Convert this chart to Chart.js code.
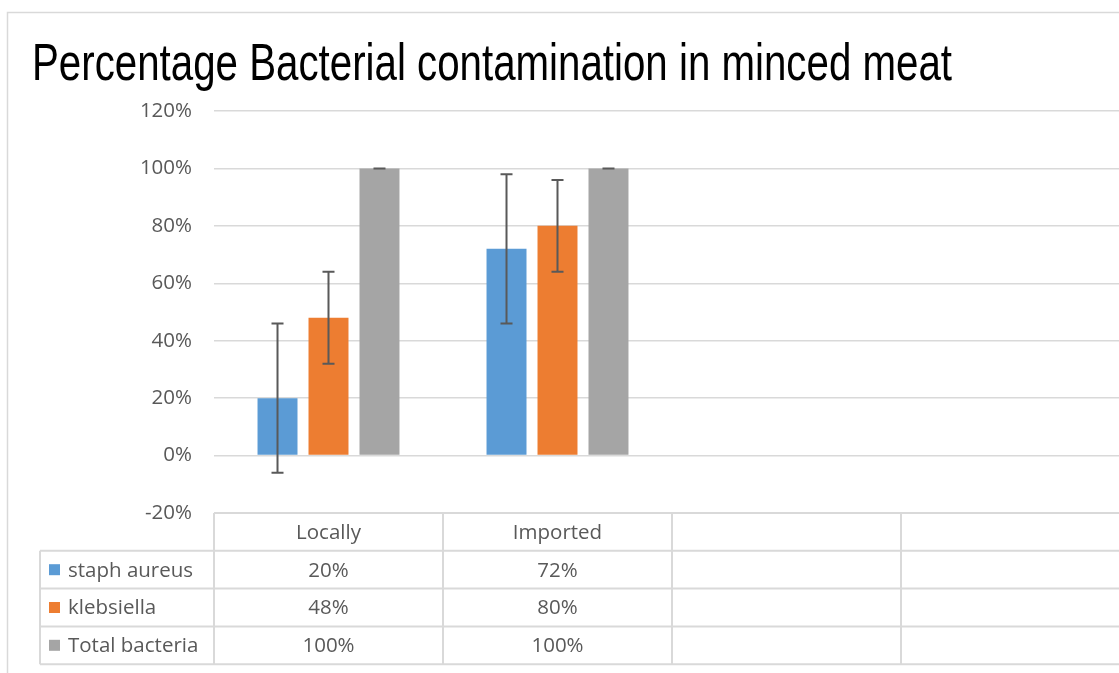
<!DOCTYPE html>
<html lang="en">
<head>
<meta charset="UTF-8">
<title>Percentage Bacterial contamination in minced meat</title>
<script src="https://cdn.jsdelivr.net/npm/chart.js@4.4.0/dist/chart.umd.min.js"></script>
<style>
  html, body { margin: 0; padding: 0; background: #fff; overflow: hidden; }
  #wrap { position: absolute; left: 0; top: 0; width: 1140px; height: 673px; }
</style>
</head>
<body>
<div id="wrap"><canvas id="chart" width="1140" height="673"></canvas></div>
<script>
// Data
const chartTitle = 'Percentage Bacterial contamination in minced meat';
const categories = ['Locally', 'Imported', '', ''];
const seriesNames = ['staph aureus', 'klebsiella', 'Total bacteria'];
const staphAureus = [20, 72, null, null];
const klebsiella = [48, 80, null, null];
const totalBacteria = [100, 100, null, null];
const staphErr = [26, 26, null, null];
const klebsErr = [16, 16, null, null];
const totalErr = [0, 0, null, null];
const yMin = -20, yMax = 120, yStep = 20;

const colors = ['#5B9BD5', '#ED7D31', '#A5A5A5'];
const textColor = '#595959';
const lineColor = '#D9D9D9';
const font = '"Open Sans", "Liberation Sans", sans-serif';

const seriesValues = [staphAureus, klebsiella, totalBacteria];
const seriesErrors = [staphErr, klebsErr, totalErr];

// frame + title
const framePlugin = {
  id: 'frame',
  beforeDraw(chart) {
    const c = chart.ctx;
    c.save();
    c.strokeStyle = lineColor;
    c.lineWidth = 1.5;
    c.strokeRect(7.5, 12.5, 1300, 800);
    c.fillStyle = '#000';
    c.font = '52px "Liberation Sans", Arial, sans-serif';
    c.textBaseline = 'alphabetic';
    c.textAlign = 'left';
    // narrow face is not installed, so squeeze the regular one to the title width
    const w = c.measureText(chartTitle).width;
    c.translate(32, 80);
    c.scale(920 / w, 1);
    c.fillText(chartTitle, 0, 0);
    c.restore();
  }
};

// error bars
const errorBarPlugin = {
  id: 'errorBars',
  afterDatasetsDraw(chart) {
    const c = chart.ctx;
    const y = chart.scales.y;
    c.save();
    c.strokeStyle = '#595959';
    c.lineWidth = 2;
    chart.data.datasets.forEach((ds, i) => {
      const meta = chart.getDatasetMeta(i);
      meta.data.forEach((bar, j) => {
        const v = ds.data[j];
        const e = seriesErrors[i][j];
        if (v == null || e == null) return;
        const top = y.getPixelForValue(v + e);
        const bot = y.getPixelForValue(v - e);
        const half = 6;
        c.beginPath();
        c.moveTo(bar.x, top); c.lineTo(bar.x, bot);
        c.moveTo(bar.x - half, top); c.lineTo(bar.x + half, top);
        c.moveTo(bar.x - half, bot); c.lineTo(bar.x + half, bot);
        c.stroke();
      });
    });
    c.restore();
  }
};

// data table under the plot
const tablePlugin = {
  id: 'dataTable',
  afterDraw(chart) {
    const c = chart.ctx;
    const x = chart.scales.x;
    const area = chart.chartArea;
    const colW = (area.right - area.left) / categories.length;
    const rowH = 37.8;
    const top = area.bottom;
    const legendLeft = 40;
    const nRows = seriesNames.length + 1;
    c.save();
    c.strokeStyle = lineColor;
    c.lineWidth = 2;
    c.beginPath();
    // horizontal lines
    c.moveTo(area.left, top); c.lineTo(area.right, top);
    for (let r = 1; r <= nRows; r++) {
      const yy = top + r * rowH;
      c.moveTo(legendLeft, yy); c.lineTo(area.right, yy);
    }
    // vertical lines
    c.moveTo(legendLeft, top + rowH); c.lineTo(legendLeft, top + nRows * rowH);
    for (let k = 0; k <= categories.length; k++) {
      const xx = area.left + k * colW;
      c.moveTo(xx, top); c.lineTo(xx, top + nRows * rowH);
    }
    c.stroke();

    c.font = '20.5px ' + font;
    c.fillStyle = textColor;
    c.textBaseline = 'middle';
    c.textAlign = 'center';
    categories.forEach((cat, k) => {
      const cx = x.getPixelForValue(k);
      c.fillText(cat, cx, top + rowH / 2 + 1);
      seriesValues.forEach((vals, s) => {
        if (vals[k] == null) return;
        c.fillText(vals[k] + '%', cx, top + (s + 1.5) * rowH + 1);
      });
    });
    c.textAlign = 'left';
    seriesNames.forEach((name, s) => {
      const cy = top + (s + 1.5) * rowH;
      c.fillStyle = colors[s];
      c.fillRect(49, cy - 5.5, 11, 11);
      c.fillStyle = textColor;
      c.fillText(name, 68, cy + 1);
    });
    c.restore();
  }
};

new Chart(document.getElementById('chart'), {
  type: 'bar',
  data: {
    labels: categories,
    datasets: seriesNames.map((name, i) => ({
      label: name,
      data: seriesValues[i],
      backgroundColor: colors[i],
      borderWidth: 0,
      categoryPercentage: 0.668,
      barPercentage: 0.784
    }))
  },
  options: {
    responsive: false,
    animation: false,
    layout: { padding: { top: 111, left: 0, right: 10, bottom: 0 } },
    plugins: {
      legend: { display: false },
      title: { display: false },
      tooltip: { enabled: false }
    },
    scales: {
      x: {
        grid: { display: false },
        border: { display: false },
        ticks: { display: false },
        afterFit(scale) { scale.height = 160; }
      },
      y: {
        min: yMin,
        max: yMax,
        ticks: {
          stepSize: yStep,
          padding: 22,
          color: textColor,
          font: { family: font, size: 20.5 },
          callback: v => v + '%'
        },
        grid: { color: lineColor, lineWidth: 1.5, drawTicks: false },
        border: { display: false },
        afterFit(scale) { scale.width = 214; }
      }
    }
  },
  plugins: [framePlugin, errorBarPlugin, tablePlugin]
});
</script>
</body>
</html>
